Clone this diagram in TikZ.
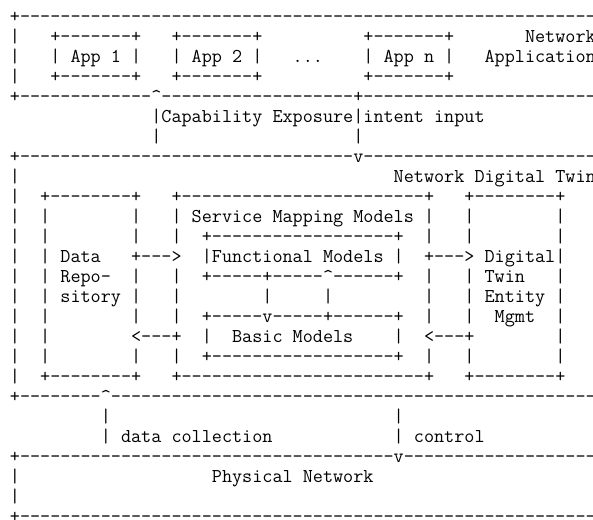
\documentclass[tikz,border=0pt]{standalone}
\usepackage{tikz}

% typewriter font for the character grid
\newcommand\asciifont{\ttfamily\fontsize{19.24pt}{20pt}\selectfont}
\newcommand\dashes[1]{\foreach\k in {1,...,#1}{-}}
\newlength\charw
\AtBeginDocument{\settowidth{\charw}{\asciifont +}}

\begin{document}
\begin{tikzpicture}[
    x=\charw, y=1.98\charw,
    glyph/.style={anchor=base west, inner sep=0pt, outer sep=0pt, font=\asciifont}
]

\useasboundingbox (-0.985,0.125) rectangle (57.73,-25.875);
\clip (-0.985,0.125) rectangle (57.73,-25.875);

% --- Network applications ---
\node[glyph] (apptop) at (0,-1) {+\dashes{58}};
\foreach \pos/\seg in {0/|, 4/+\dashes{7}+, 16/+\dashes{7}+, 35/+\dashes{7}+, 51/Network}
    \node[glyph] (r2-\pos) at (\pos,-2) {\seg};
\foreach \pos/\seg in {0/|, 4/| App 1 |, 16/| App 2 |, 35/| App n |, 47/Application}
    \node[glyph] (r3-\pos) at (\pos,-3) {\seg};
\node[glyph] (dots) at (28,-3) {...};
\foreach \pos/\seg in {0/|, 4/+\dashes{7}+, 16/+\dashes{7}+, 35/+\dashes{7}+}
    \node[glyph] (r4-\pos) at (\pos,-4) {\seg};
\node[glyph] (appbot) at (0,-5) {+\dashes{13}\textasciicircum\dashes{19}+\dashes{24}};

% --- Exposure / intent ---
\node[glyph] (expose) at (14,-6) {|Capability Exposure|intent input};
\foreach \pos in {14,34}
    \node[glyph] (r7-\pos) at (\pos,-7) {|};

% --- Network digital twin ---
\node[glyph] (ndttop) at (0,-8) {+\dashes{33}v\dashes{24}};
\foreach \pos/\seg in {0/|, 38/Network Digital Twin}
    \node[glyph] (r9-\pos) at (\pos,-9) {\seg};
\foreach \pos/\seg in {0/|, 3/+\dashes{8}+, 16/+\dashes{24}+, 45/+\dashes{8}+}
    \node[glyph] (r10-\pos) at (\pos,-10) {\seg};
\foreach \pos/\seg in {0/|, 3/|, 12/|, 16/| Service Mapping Models |, 45/|, 54/|}
    \node[glyph] (r11-\pos) at (\pos,-11) {\seg};
\foreach \pos/\seg in {0/|, 3/|, 12/|, 16/|, 19/+\dashes{18}+, 41/|, 45/|, 54/|}
    \node[glyph] (r12-\pos) at (\pos,-12) {\seg};
\foreach \pos/\seg in {0/|, 3/| Data, 12/+\dashes{3}>, 19/|Functional Models |, 41/+\dashes{3}> Digital|}
    \node[glyph] (r13-\pos) at (\pos,-13) {\seg};
\foreach \pos/\seg in {0/|, 3/| Repo-, 12/|, 16/|, 19/+\dashes{5}+\dashes{5}\textasciicircum\dashes{6}+, 41/|, 45/| Twin, 54/|}
    \node[glyph] (r14-\pos) at (\pos,-14) {\seg};
\foreach \pos/\seg in {0/|, 3/| sitory |, 16/|, 25/|, 31/|, 41/|, 45/| Entity |}
    \node[glyph] (r15-\pos) at (\pos,-15) {\seg};
\foreach \pos/\seg in {0/|, 3/|, 12/|, 16/|, 19/+\dashes{5}v\dashes{5}+\dashes{6}+, 41/|, 45/|, 48/Mgmt, 54/|}
    \node[glyph] (r16-\pos) at (\pos,-16) {\seg};
\foreach \pos/\seg in {0/|, 3/|, 12/<\dashes{3}+, 19/|, 22/Basic Models, 38/|, 41/<\dashes{3}+, 54/|}
    \node[glyph] (r17-\pos) at (\pos,-17) {\seg};
\foreach \pos/\seg in {0/|, 3/|, 12/|, 16/|, 19/+\dashes{18}+, 41/|, 45/|, 54/|}
    \node[glyph] (r18-\pos) at (\pos,-18) {\seg};
\foreach \pos/\seg in {0/|, 3/+\dashes{8}+, 16/+\dashes{24}+, 45/+\dashes{8}+}
    \node[glyph] (r19-\pos) at (\pos,-19) {\seg};
\node[glyph] (ndtbot) at (0,-20) {+\dashes{8}\textasciicircum\dashes{49}};

% --- Data collection / control ---
\foreach \pos in {9,38}
    \node[glyph] (r21-\pos) at (\pos,-21) {|};
\node[glyph] (collect) at (9,-22) {| data collection};
\node[glyph] (control) at (38,-22) {| control};

% --- Physical network ---
\node[glyph] (phytop) at (0,-23) {+\dashes{37}v\dashes{20}};
\foreach \pos/\seg in {0/|, 20/Physical Network}
    \node[glyph] (r24-\pos) at (\pos,-24) {\seg};
\node[glyph] (r25-0) at (0,-25) {|};
\node[glyph] (phybot) at (0,-26) {+\dashes{58}};

\end{tikzpicture}
\end{document}
